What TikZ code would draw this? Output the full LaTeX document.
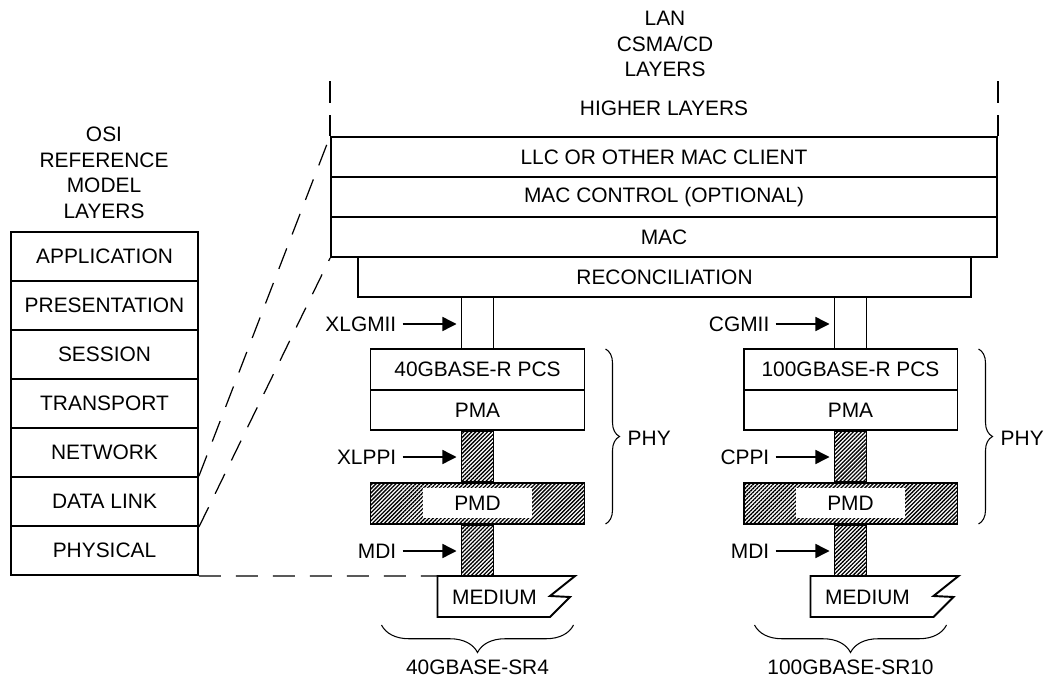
\documentclass[tikz,border=0pt]{standalone}
\usepackage{fontspec}
\setmainfont{Liberation Sans}
\usetikzlibrary{arrows.meta,patterns.meta,decorations.pathreplacing}

\begin{document}
\begin{tikzpicture}[x=0.02cm,y=-0.02cm,
    font=\fontsize{11.9}{14.5}\selectfont,
    strato/.style={draw,line width=1.1pt,minimum height=0.8cm,inner sep=0pt},
    linea/.style={line width=1.1pt},
    barra/.style={draw,line width=1.1pt,pattern={Lines[angle=45,distance=1.6pt,line width=0.75pt]}},
    tratteggiata/.style={line width=0.7pt,dash pattern=on 0.44cm off 0.3cm},
    freccia/.style={-{Triangle[length=8pt,width=8pt]},line width=0.8pt},
    graffa/.style={decorate,decoration={brace,amplitude=0.28cm},line width=0.6pt},
    graffabassa/.style={decorate,decoration={brace,amplitude=0.55cm},line width=0.6pt}]
    \useasboundingbox (0,0) rectangle (1053,685);
    % --- modello OSI ----------------------------------------------------
    \node[align=center] (ositit) at (104,173) {OSI\\REFERENCE\\MODEL\\LAYERS};
    \foreach \nome [count=\i] in {APPLICATION,PRESENTATION,SESSION,TRANSPORT,NETWORK,DATA LINK,PHYSICAL}
        \node[strato,minimum width=3.74cm,minimum height=0.98cm] (osi\i) at (104.5,{207.5+49*\i}) {\nome};
    % --- strati LAN -----------------------------------------------------
    \node[align=center] (lantit) at (665,44) {LAN\\CSMA/CD\\LAYERS};
    \node (alti) at (664,108) {HIGHER LAYERS};
    \node[strato,minimum width=13.32cm] (llc) at (664,157) {LLC OR OTHER MAC CLIENT};
    \node[strato,minimum width=13.32cm] (macctrl) at (664,197) {MAC CONTROL (OPTIONAL)};
    \node[strato,minimum width=13.32cm] (mac) at (664,237) {MAC};
    \node[strato,minimum width=12.26cm] (recon) at (664.5,277) {RECONCILIATION};
    \draw[linea,dash pattern=on 0.44cm off 0.24cm] ([yshift=1.1cm]llc.north west) -- (llc.north west);
    \draw[linea,dash pattern=on 0.44cm off 0.24cm] ([yshift=1.1cm]llc.north east) -- (llc.north east);
    % --- colonne PHY ----------------------------------------------------
    \foreach \cx/\mr/\pcs/\mii/\ppi/\sr [count=\c] in
        {477.5/137.5/40GBASE-R PCS/XLGMII/XLPPI/40GBASE-SR4,
         850.5/148/100GBASE-R PCS/CGMII/CPPI/100GBASE-SR10}{
        \node[strato,minimum width=4.28cm,minimum height=0.82cm] (pcs\c) at (\cx,369.5) {\pcs};
        \node[strato,minimum width=4.28cm] (pma\c) at (\cx,410) {PMA};
        \node[strato,minimum width=4.28cm,minimum height=0.82cm,barra] (pmd\c) at (\cx,503.5) {};
        \node[fill=white,minimum width=2.18cm,minimum height=0.6cm,inner sep=0pt] (pmdt\c) at (\cx,503) {PMD};
        % interfaccia MII
        \coordinate (misx\c) at ({\cx-16},349);
        \coordinate (midx\c) at ({\cx+16},349);
        \draw[linea] (misx\c) -- (misx\c |- recon.south);
        \draw[linea] (midx\c) -- (midx\c |- recon.south);
        % barre tratteggiate
        \coordinate (mezzo\c) at ({\cx-40},576);
        \draw[barra] ([xshift=-0.32cm]pma\c.south) rectangle ([xshift=0.32cm]pmd\c.north);
        \draw[barra] ([xshift=-0.32cm]pmd\c.south) rectangle ({\cx+16},576);
        % mezzo trasmissivo
        \draw[linea] (mezzo\c) -- ++(\mr,0) -- ++(-25,20) -- ++(20,1) -- ++(-20,20)
            -- ({\cx-40},617) -- cycle;
        \node (medtxt\c) at ({\cx+17},597) {MEDIUM};
        % etichette con frecce
        \node[anchor=east] (mii\c) at ({\cx-75},324) {\mii};
        \node[anchor=east] (ppi\c) at ({\cx-75},457) {\ppi};
        \node[anchor=east] (mdi\c) at ({\cx-75},551) {MDI};
        \coordinate (miip\c) at ({\cx-21},324);
        \coordinate (ppip\c) at ({\cx-21},457);
        \coordinate (mdip\c) at ({\cx-21},551);
        \draw[freccia] (mii\c) -- (miip\c);
        \draw[freccia] (ppi\c) -- (ppip\c);
        \draw[freccia] (mdi\c) -- (mdip\c);
        % graffe
        \draw[graffa] ({\cx+128},349) -- ({\cx+128},524);
        \node[anchor=west] (phy\c) at ({\cx+144},438) {PHY};
        \draw[graffabassa] ({\cx+96},625) -- ({\cx-96},625);
        \node (sr\c) at (\cx,667) {\sr};
    }
    % --- corrispondenze OSI ---------------------------------------------
    \draw[tratteggiata] (osi6.north east) -- (llc.north west);
    \draw[tratteggiata] (osi6.south east) -- (mac.south west);
    \draw[tratteggiata] (osi7.south east) -- (mezzo1);
\end{tikzpicture}
\end{document}
